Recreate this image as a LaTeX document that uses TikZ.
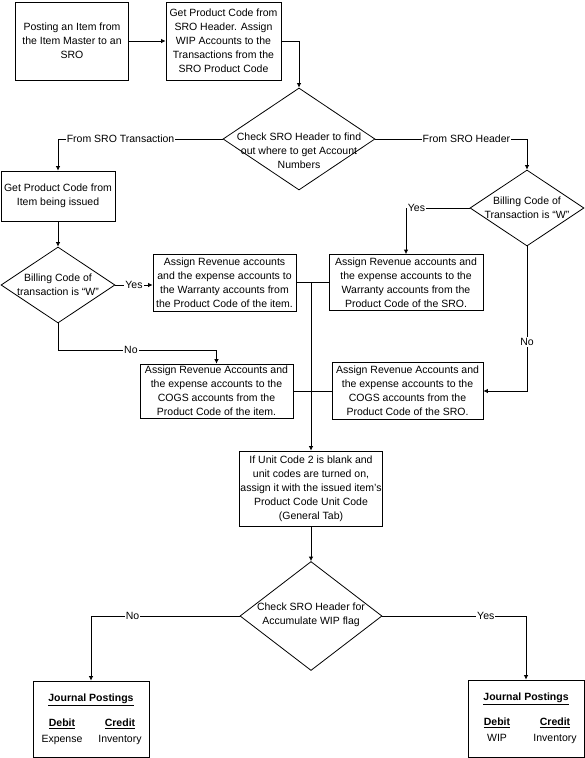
\documentclass[tikz,border=0pt]{standalone}
\usepackage{fontspec}
\setmainfont{Liberation Sans}
\usetikzlibrary{shapes.geometric,arrows.meta}
\begin{document}
\begin{tikzpicture}[x=1pt,y=-1pt,
  font=\fontsize{10.5}{14}\selectfont,
  box/.style={draw, line width=0.8pt, inner sep=0pt, align=center},
  dia/.style={draw, diamond, line width=0.8pt, inner sep=0pt},
  txt/.style={inner sep=0pt, align=center},
  lbl/.style={fill=white, inner sep=1pt},
  ln/.style={line width=0.8pt},
  arr/.style={line width=0.8pt, -{Latex[length=4.5pt,width=4.5pt]}}]
\fill[white] (0,0) rectangle (584,758);
\useasboundingbox (0,0) rectangle (584,758);

% top row
\node[box, minimum width=113pt, minimum height=78pt] (a) at (72,41) {Posting an Item from\\the Item Master to an\\SRO};
\node[box, minimum width=115pt, minimum height=78pt] (b) at (223.5,41) {Get Product Code from\\SRO Header. Assign\\WIP Accounts to the\\Transactions from the\\SRO Product Code};

% first decision
\node[dia, minimum width=152pt, minimum height=102pt] (d1) at (299,139) {};
\node[txt] (d1t) at (299,151) {Check SRO Header to find\\out where to get Account\\Numbers};

% left branch
\node[box, minimum width=114pt, minimum height=50pt] (c) at (58,196) {Get Product Code from\\Item being issued};
\node[dia, minimum width=114pt, minimum height=76pt] (d3) at (58,285) {};
\node[txt] (d3t) at (58,284.5) {Billing Code of\\transaction is “W”};
\node[box, minimum width=143pt, minimum height=57pt] (d) at (224.5,282.5) {Assign Revenue accounts\\and the expense accounts to\\the Warranty accounts from\\the Product Code of the item.};
\node[box, minimum width=153pt, minimum height=54pt] (g) at (216.5,391) {Assign Revenue Accounts and\\the expense accounts to the\\COGS accounts from the\\Product Code of the item.};

% right branch
\node[dia, minimum width=114pt, minimum height=76pt] (d2) at (527,208) {};
\node[txt] (d2t) at (527,208) {Billing Code of\\Transaction is “W”};
\node[box, minimum width=154pt, minimum height=56pt] (e) at (406,282.5) {Assign Revenue accounts and\\the expense accounts to the\\Warranty accounts from the\\Product Code of the SRO.};
\node[box, minimum width=151pt, minimum height=57pt] (f) at (407.5,391) {Assign Revenue Accounts and\\the expense accounts to the\\COGS accounts from the\\Product Code of the SRO.};

% unit code box
\node[box, minimum width=143pt, minimum height=75pt] (h) at (311,488.5) {If Unit Code 2 is blank and\\unit codes are turned on,\\assign it with the issued item’s\\Product Code Unit Code\\(General Tab)};

% second decision
\node[dia, minimum width=142pt, minimum height=109pt] (d4) at (311,616) {};
\node[txt] (d4t) at (311,614.5) {Check SRO Header for\\Accumulate WIP flag};

% journal boxes
\node[box, minimum width=114pt, minimum height=76pt] (jl) at (91,719) {\underline{\textbf{Journal Postings}}\\[11pt]\makebox[58pt]{\underline{\textbf{Debit}}}\makebox[58pt]{\underline{\textbf{Credit}}}\\[2pt]\makebox[58pt]{Expense}\makebox[58pt]{Inventory}};
\node[box, minimum width=114pt, minimum height=77pt] (jr) at (526,718.5) {\underline{\textbf{Journal Postings}}\\[11pt]\makebox[58pt]{\underline{\textbf{Debit}}}\makebox[58pt]{\underline{\textbf{Credit}}}\\[2pt]\makebox[58pt]{WIP}\makebox[58pt]{Inventory}};

% connectors
\draw[arr] (a.east) -- (b.west);
\draw[arr] (b.east) -| (d1.north);
\draw[arr] (d1.west) -| node[lbl, pos=0.31] {From SRO Transaction} (c.north);
\draw[arr] (d1.east) -| node[lbl, pos=0.3] {From SRO Header} (d2.north);
\draw[arr] (c.south) -- (d3.north);
\draw[arr] (d3.east) -- node[lbl] {Yes} (d3.east -| d.west);
\draw[arr] (d3.south) |- node[lbl, pos=0.73] {No} ([yshift=13.5pt]g.north) -- (g.north);
\draw[arr] (d2.west) -| node[lbl, pos=0.5, anchor=west, xshift=0.5pt] {Yes} (e.north);
\draw[arr] (d2.south) |- node[lbl, pos=0.33] {No} (f.east);
\draw[ln] (d.east) -- (e.west);
\draw[ln] (g.east) -- (f.west);
\coordinate (jn) at (h.north |- d.east);
\draw[arr] (jn) -- (h.north);
\draw[arr] (h.south) -- (d4.north);
\draw[arr] (d4.west) -| node[lbl, pos=0.36] {No} (jl.north);
\draw[arr] (d4.east) -| node[lbl, pos=0.36] {Yes} (jr.north);
\end{tikzpicture}
\end{document}
